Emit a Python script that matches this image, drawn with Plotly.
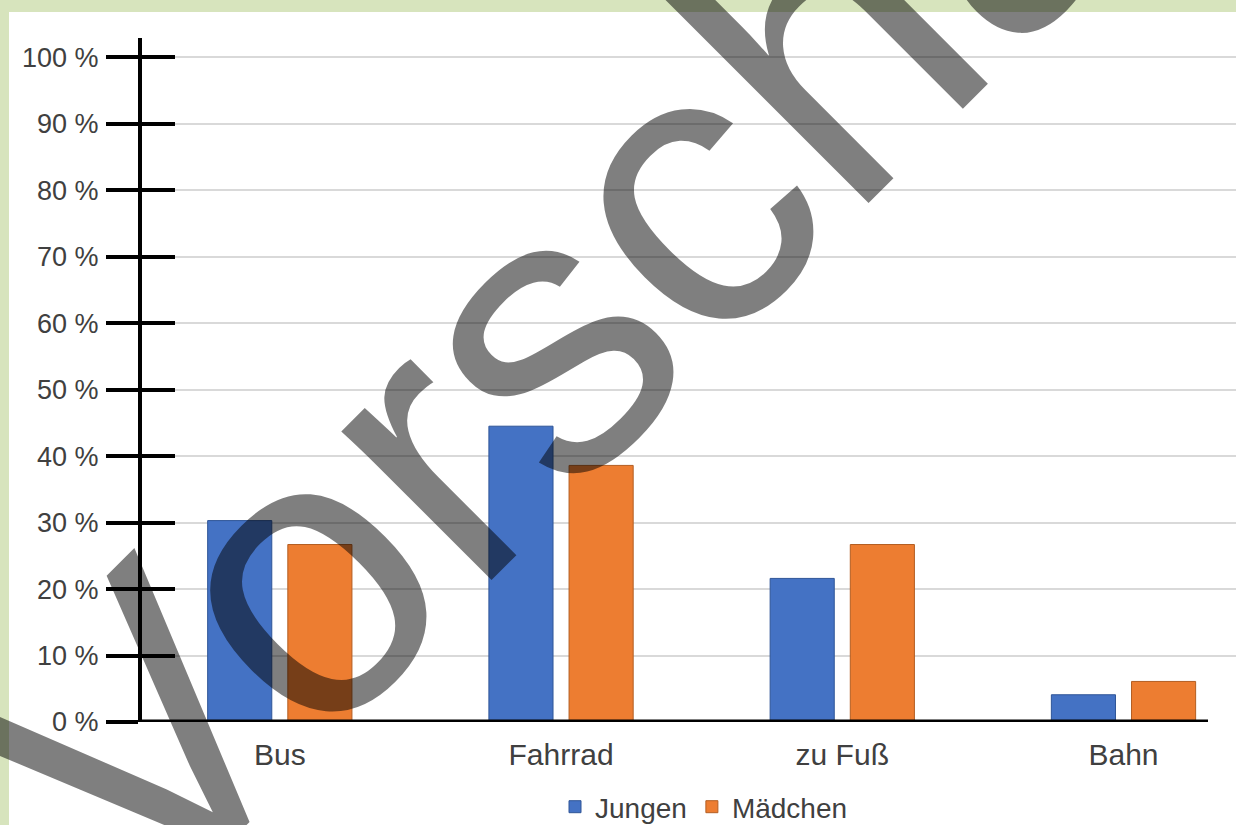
import plotly.graph_objects as go

categories = ["Bus", "Fahrrad", "zu Fuß", "Bahn"]
jungen = [30.3, 44.5, 21.6, 4.1]
maedchen = [26.7, 38.6, 26.7, 6.1]
tick_vals = [0, 10, 20, 30, 40, 50, 60, 70, 80, 90, 100]
tick_text = ["0 %", "10 %", "20 %", "30 %", "40 %", "50 %", "60 %", "70 %", "80 %", "90 %", "100 %"]
series_names = ["Jungen", "Mädchen"]

FONT = "Liberation Sans, Arial, sans-serif"
W, H = 1236, 825
L, R, T, B = 142, 0, 38, 103
PW, PH = W - L - R, H - T - B


def px_x(px):
    return (px - L) / PW


def px_y(py):
    return (H - B - py) / PH


fig = go.Figure()
fig.add_trace(go.Bar(
    x=categories, y=jungen, name=series_names[0],
    marker=dict(color="#4472C4", line=dict(color="#2F5597", width=1)),
))
fig.add_trace(go.Bar(
    x=categories, y=maedchen, name=series_names[1],
    marker=dict(color="#ED7D31", line=dict(color="#B35E22", width=1)),
))
# helper trace to carry the inner half of the cross-shaped ticks
fig.add_trace(go.Scatter(
    x=categories, y=[None] * len(categories), yaxis="y2",
    showlegend=False, hoverinfo="skip", mode="markers",
))

fig.update_layout(
    width=W, height=H,
    margin=dict(l=L, r=R, t=T, b=B, pad=0, autoexpand=False),
    paper_bgcolor="#D7E4BD",
    plot_bgcolor="white",
    barmode="group",
    bargap=0.43,
    bargroupgap=0.2,
    font=dict(family=FONT, color="#404040"),
    xaxis=dict(
        type="category", range=[-0.49, 3.4],
        showline=False, showgrid=False, zeroline=False, ticks="",
        tickfont=dict(size=30, color="#404040", family=FONT),
        ticklabelstandoff=12,
    ),
    yaxis=dict(
        range=[0, 102.9], tickvals=tick_vals, ticktext=tick_text,
        showline=True, linecolor="black", linewidth=4,
        ticks="outside", ticklen=32, tickwidth=4, tickcolor="black",
        showgrid=True, gridcolor="#D9D9D9", gridwidth=1.5,
        zeroline=False,
        tickfont=dict(size=27, color="#404040", family=FONT),
        ticklabelstandoff=2,
    ),
    yaxis2=dict(
        range=[0, 102.9], tickvals=tick_vals, overlaying="y", side="left",
        anchor="x", showline=False, showgrid=False, zeroline=False,
        ticks="inside", ticklen=33, tickwidth=4, tickcolor="black",
        showticklabels=False,
    ),
    legend=dict(
        orientation="h", x=px_x(704), xanchor="center",
        y=px_y(807), yanchor="middle",
        font=dict(size=28, color="#404040", family=FONT),
        bgcolor="rgba(0,0,0,0)", itemwidth=30,
    ),
    showlegend=True,
    shapes=[
        dict(type="rect", layer="below", xref="paper", yref="paper",
             x0=px_x(9), x1=px_x(W + 20), y0=px_y(H + 20), y1=px_y(12),
             fillcolor="white", line=dict(width=0)),
        dict(type="line", xref="paper", yref="y",
             x0=0, x1=px_x(1208), y0=0, y1=0,
             line=dict(color="black", width=5)),
    ],
    annotations=[
        dict(text="Vorschau", xref="paper", yref="paper",
             x=px_x(633), y=px_y(242), xanchor="center", yanchor="middle",
             textangle=-45, showarrow=False,
             font=dict(family=FONT, size=400, color="rgba(0,0,0,0.5)")),
    ],
)

fig.write_html(
    "out.html",
    config={"displayModeBar": False},
    post_script="document.body.style.margin='0';document.body.style.overflow='hidden';",
)
